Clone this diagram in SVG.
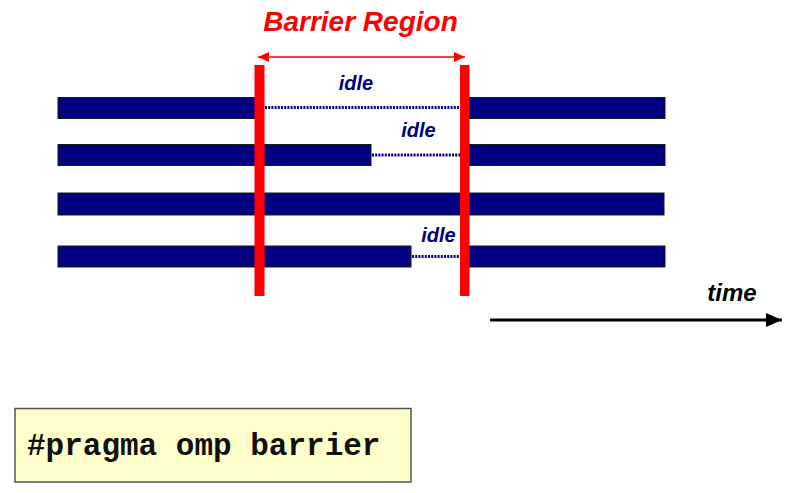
<svg xmlns="http://www.w3.org/2000/svg" width="812" height="493" viewBox="0 0 812 493">
<style>
.bar{fill:#000080;stroke:#1a1a1a;stroke-width:1}
.idle{stroke:#000080;stroke-width:3;stroke-dasharray:2 1.2;fill:none}
.barrier{fill:#ff0000}
.lbl{font-family:"Liberation Sans",Arial,sans-serif;font-weight:bold;font-style:italic}
</style>
<defs>
<marker id="redHead" viewBox="0 0 10 10" refX="10" refY="5" markerWidth="11" markerHeight="10" markerUnits="userSpaceOnUse" orient="auto-start-reverse" preserveAspectRatio="none"><path d="M0,0 L10,5 L0,10 z" fill="#ff0000"/></marker>
<marker id="blackHead" viewBox="0 0 10 10" refX="10" refY="5" markerWidth="16" markerHeight="14" markerUnits="userSpaceOnUse" orient="auto" preserveAspectRatio="none"><path d="M0,0 L10,5 L0,10 z" fill="#000"/></marker>
</defs>
<g id="threads">
<g id="thread1"><rect class="bar" x="58" y="97.5" width="198" height="21"/><line class="idle" x1="265" y1="107.5" x2="460" y2="107.5"/><rect class="bar" x="468" y="97.5" width="197" height="21"/></g>
<g id="thread2"><rect class="bar" x="58" y="144.5" width="313" height="21"/><line class="idle" x1="372" y1="155" x2="460" y2="155"/><rect class="bar" x="468" y="144.5" width="197" height="21"/></g>
<g id="thread3"><rect class="bar" x="58" y="193" width="606" height="22"/></g>
<g id="thread4"><rect class="bar" x="58" y="246" width="353" height="21"/><line class="idle" x1="412" y1="256.5" x2="460" y2="256.5"/><rect class="bar" x="468" y="246" width="197" height="21"/></g>
</g>
<g id="barriers">
<rect class="barrier" x="254.5" y="65" width="10" height="231"/>
<rect class="barrier" x="460" y="65" width="9.5" height="231"/>
</g>
<g id="connectors">
<line x1="258" y1="57" x2="465" y2="57" stroke="#ff0000" stroke-width="1.5" marker-start="url(#redHead)" marker-end="url(#redHead)"/>
<line x1="490" y1="320" x2="782" y2="320" stroke="#000" stroke-width="3" marker-end="url(#blackHead)"/>
</g>
<g id="labels">
<text class="lbl" x="360.5" y="31" font-size="28" fill="#ff0000" text-anchor="middle">Barrier Region</text>
<text class="lbl" x="356" y="90" font-size="20" fill="#000080" text-anchor="middle">idle</text>
<text class="lbl" x="418.5" y="137" font-size="20" fill="#000080" text-anchor="middle">idle</text>
<text class="lbl" x="438.5" y="242" font-size="20" fill="#000080" text-anchor="middle">idle</text>
<text class="lbl" x="732" y="301" font-size="24" fill="#000" text-anchor="middle">time</text>
</g>
<g id="code">
<rect x="15" y="408.5" width="396" height="73.5" fill="#ffffcc" stroke="#555" stroke-width="1.5"/>
<text x="27" y="455" font-family="'Liberation Mono','Courier New',monospace" font-weight="bold" font-size="31" fill="#111">#pragma omp barrier</text>
</g>
</svg>
